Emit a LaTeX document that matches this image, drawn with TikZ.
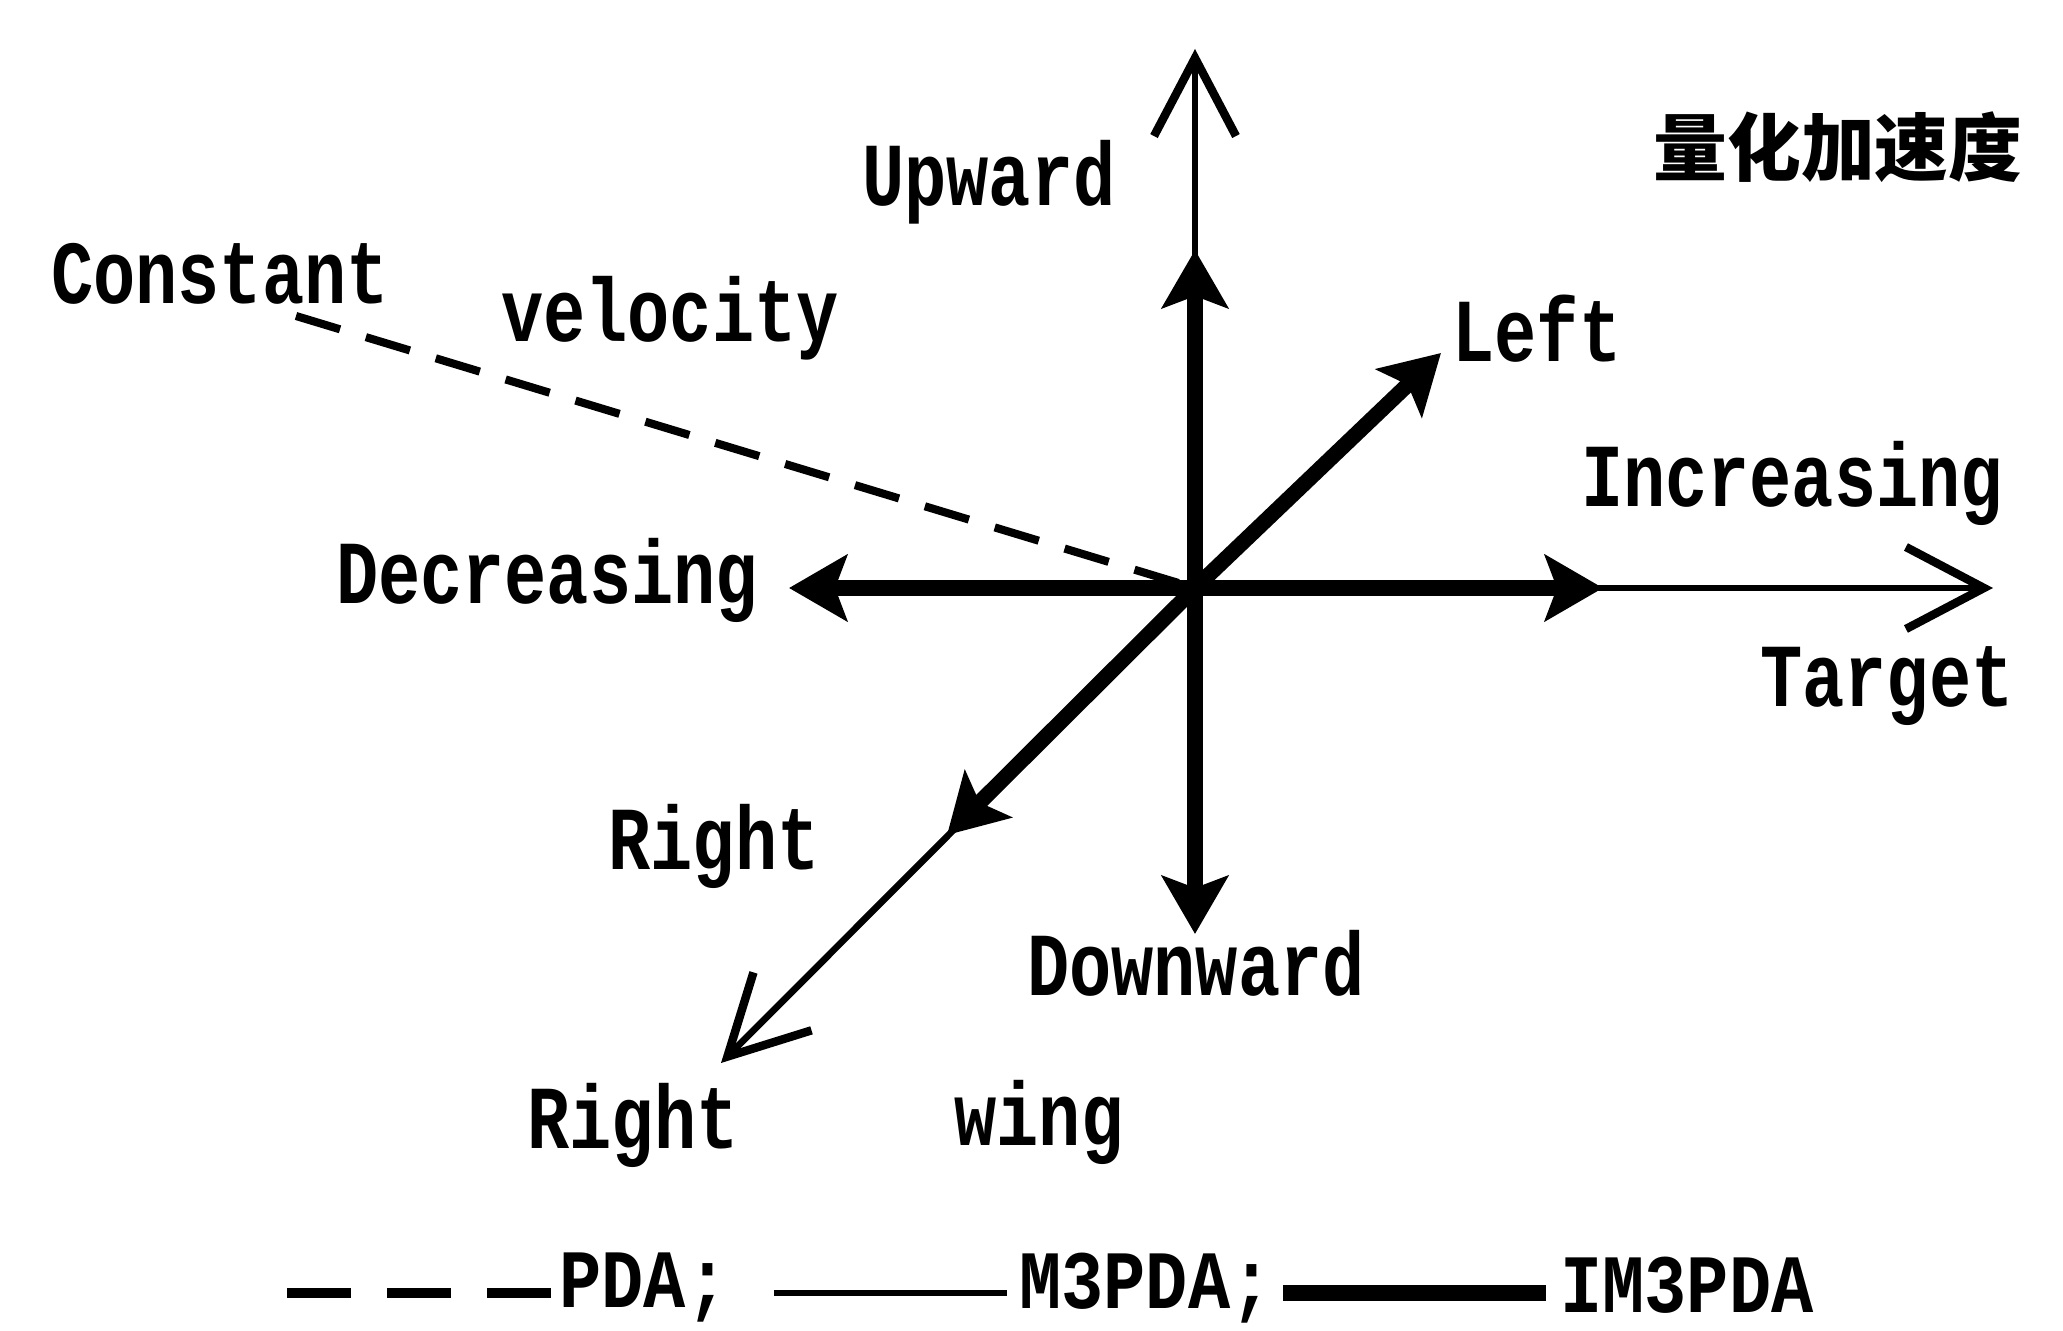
\documentclass[tikz,border=0pt]{standalone}
\usepackage{fontspec}
\usepackage{graphicx}
\setmonofont{Liberation Mono}
\newfontfamily\cjkfont{Noto Sans CJK SC}
\usetikzlibrary{arrows.meta}
\newcommand{\tallbox}[1]{\scalebox{1}[1.28]{#1}}
\newcommand{\keybox}[1]{\scalebox{1}[1.18]{#1}}
\tikzset{
  lbl/.style={font=\ttfamily\bfseries\fontsize{20}{20}\selectfont, inner sep=0pt},
  thin axis/.style={line width=1.9pt, -{Straight Barb[length=0.78cm,width=0.82cm,line width=2.4pt]}},
  thick axis/.style={line width=4.4pt, -{Stealth[length=0.58cm,width=0.66cm,inset=0.12cm]}},
  pda line/.style={line width=2.3pt, dash pattern=on 0.46cm off 0.27cm},
  pda key/.style={line width=2.6pt, dash pattern=on 0.64cm off 0.36cm},
}
\begin{document}
\begin{tikzpicture}
\useasboundingbox (0,0) rectangle (20.63,13.30);
% origin and arrow tips
\coordinate (O) at (11.95,7.42);
\coordinate (upthin) at (11.95,12.81);
\coordinate (upthick) at (11.95,10.80);
\coordinate (down) at (11.95,3.96);
\coordinate (left) at (14.41,9.77);
\coordinate (incthick) at (16.03,7.42);
\coordinate (incthin) at (19.93,7.42);
\coordinate (dec) at (7.89,7.42);
\coordinate (rightthick) at (9.47,4.95);
\coordinate (rightthin) at (7.21,2.67);
\coordinate (const) at (2.96,10.14);
% PDA
\draw[pda line] (const) -- (O);
% M3PDA
\draw[thin axis] (O) -- (upthin);
\draw[thin axis] (O) -- (incthin);
\draw[thin axis] (O) -- (rightthin);
% IM3PDA
\draw[thick axis] (O) -- (upthick);
\draw[thick axis] (O) -- (down);
\draw[thick axis] (O) -- (left);
\draw[thick axis] (O) -- (incthick);
\draw[thick axis] (O) -- (dec);
\draw[thick axis] (O) -- (rightthick);
% labels
\node[lbl] (upward) at (9.89,11.48) {\tallbox{Upward}};
\node[lbl] (constant) at (2.20,10.56) {\tallbox{Constant}};
\node[lbl] (velocity) at (6.70,10.12) {\tallbox{velocity}};
\node[lbl] (leftlbl) at (15.37,10.01) {\tallbox{Left}};
\node[lbl] (increasing) at (17.92,8.47) {\tallbox{Increasing}};
\node[lbl] (decreasing) at (5.47,7.50) {\tallbox{Decreasing}};
\node[lbl] (target) at (18.87,6.44) {\tallbox{Target}};
\node[lbl] (right1) at (7.14,4.84) {\tallbox{Right}};
\node[lbl] (downward) at (11.96,3.67) {\tallbox{Downward}};
\node[lbl] (right2) at (6.33,2.05) {\tallbox{Right}};
\node[lbl] (wing) at (10.39,2.08) {\tallbox{wing}};
\node[font=\cjkfont\bfseries\fontsize{21}{21}\selectfont, inner sep=0pt] (title) at (18.38,11.83) {量化加速度};
% legend
\coordinate (pdastart) at (2.87,0.37);
\coordinate (m3start) at (7.74,0.37);
\coordinate (im3start) at (12.83,0.37);
\node[lbl] (pda) at (6.44,0.42) {\keybox{PDA;}};
\node[lbl] (m3pda) at (11.46,0.42) {\keybox{M3PDA;}};
\node[lbl] (im3pda) at (16.87,0.45) {\keybox{IM3PDA}};
\coordinate (pdaend) at (5.53,0.37);
\coordinate (m3end) at (10.07,0.37);
\coordinate (im3end) at (15.46,0.37);
\draw[pda key] (pdastart) -- (pdaend);
\draw[line width=1.9pt] (m3start) -- (m3end);
\draw[line width=4.4pt] (im3start) -- (im3end);
\end{tikzpicture}
\end{document}
